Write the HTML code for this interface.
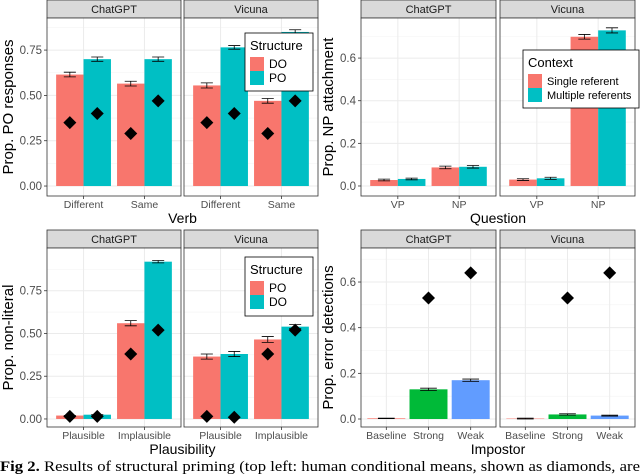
<!DOCTYPE html>
<html><head><meta charset="utf-8"><style>
html,body{margin:0;padding:0;background:#fff;}
svg{display:block;font-family:"Liberation Sans",sans-serif;}
</style></head><body>
<svg id="fig" width="640" height="474" viewBox="0 0 640 474" xmlns="http://www.w3.org/2000/svg">
<text x="0" y="471" font-family="Liberation Serif,serif" font-size="14.5" fill="#000" textLength="640" lengthAdjust="spacingAndGlyphs"><tspan font-weight="bold">Fig 2.</tspan> Results of structural priming (top left: human conditional means, shown as diamonds, are</text>
</svg>
<script>
// ---- Chart 1: structural priming ----
const c1Facets = ["ChatGPT","Vicuna"];
const c1Cats = ["Different","Same"];
const c1Groups = ["DO","PO"];
const c1Vals = [[[0.615,0.70],[0.565,0.70]],[[0.555,0.765],[0.47,0.85]]];
const c1Err = [[[0.013,0.012],[0.013,0.012]],[[0.014,0.01],[0.013,0.012]]];
const c1Human = [[[0.35,0.40],[0.29,0.47]],[[0.35,0.40],[0.29,0.47]]];
const c1Ticks = [0,0.25,0.5,0.75];
const c1TickLabels = ["0.00","0.25","0.50","0.75"];
// ---- Chart 2: NP attachment ----
const c2Cats = ["VP","NP"];
const c2Groups = ["Single referent","Multiple referents"];
const c2Vals = [[[0.028,0.033],[0.087,0.09]],[[0.03,0.036],[0.70,0.73]]];
const c2Err = [[[0.004,0.004],[0.006,0.006]],[[0.004,0.005],[0.011,0.012]]];
const c2Ticks = [0,0.2,0.4,0.6];
const c2TickLabels = ["0.0","0.2","0.4","0.6"];
// ---- Chart 3: non-literal ----
const c3Cats = ["Plausible","Implausible"];
const c3Groups = ["PO","DO"];
const c3Vals = [[[0.02,0.025],[0.56,0.92]],[[0.365,0.38],[0.465,0.54]]];
const c3Err = [[[0,0],[0.015,0.007]],[[0.015,0.015],[0.017,0.012]]];
const c3Human = [[[0.015,0.015],[0.38,0.52]],[[0.015,0.01],[0.38,0.52]]];
const c3Ticks = [0,0.25,0.5,0.75];
const c3TickLabels = ["0.00","0.25","0.50","0.75"];
// ---- Chart 4: error detection ----
const c4Cats = ["Baseline","Strong","Weak"];
const c4Vals = [[0.003,0.13,0.17],[0.002,0.02,0.015]];
const c4Err = [[0.001,0.005,0.005],[0.002,0.003,0.002]];
const c4Human = [[null,0.53,0.64],[null,0.53,0.64]];
const c4Ticks = [0,0.2,0.4,0.6];
const c4TickLabels = ["0.0","0.2","0.4","0.6"];

const NS="http://www.w3.org/2000/svg";
const svg=document.getElementById('fig');
const RED="#F8766D",TEAL="#00BFC4",GREEN="#00BA38",BLUE="#619CFF";
function mk(tag,attrs,parent){const e=document.createElementNS(NS,tag);for(const k in attrs)e.setAttribute(k,attrs[k]);(parent||svg).appendChild(e);return e;}
function txt(s,attrs,parent){const e=mk('text',attrs,parent);e.textContent=s;return e;}

function chart(cfg){
  const g=mk('g',{});
  
  
  const [d0,d1]=cfg.domain;
  const y=v=>cfg.bot-(v-d0)/(d1-d0)*(cfg.bot-cfg.top);
  const nC=cfg.cats.length, span=nC-1+1.2;
  c1Facets.forEach((fname,fi)=>{
    const px=cfg.x0[fi], pw=cfg.pw;
    const xc=i=>px+pw*(0.6+i)/span;
    const unit=pw/span;
    const st=mk('rect',{x:px,y:cfg.top-18,width:pw,height:18,fill:"#d9d9d9",stroke:"#333","stroke-width":0.8},g);
    
    
    txt(fname,{x:px+pw/2,y:cfg.top-5,"text-anchor":"middle","font-size":11,fill:"#1a1a1a"},g);
    mk('rect',{x:px,y:cfg.top,width:pw,height:cfg.bot-cfg.top,fill:"#fff"},g);
    for(let i=0;i<cfg.ticks.length;i++){
      const t=cfg.ticks[i];
      mk('line',{x1:px,x2:px+pw,y1:y(t),y2:y(t),stroke:"#ebebeb","stroke-width":1},g);
      if(i+1<cfg.ticks.length){const m=(t+cfg.ticks[i+1])/2;mk('line',{x1:px,x2:px+pw,y1:y(m),y2:y(m),stroke:"#f3f3f3","stroke-width":0.6},g);}
      else {const m=t+(t-cfg.ticks[i-1])/2; if(m<d1) mk('line',{x1:px,x2:px+pw,y1:y(m),y2:y(m),stroke:"#f3f3f3","stroke-width":0.6},g);}
    }
    cfg.cats.forEach((c,ci)=>{
      mk('line',{x1:xc(ci),x2:xc(ci),y1:cfg.top,y2:cfg.bot,stroke:"#ebebeb","stroke-width":1},g);
      mk('line',{x1:xc(ci),x2:xc(ci),y1:cfg.bot,y2:cfg.bot+3,stroke:"#333","stroke-width":0.8},g);
      const lt=txt(c,{x:xc(ci),y:cfg.bot+12,"text-anchor":"middle","font-size":10.5,fill:"#4d4d4d"},g);
      
      
    });
    cfg.cats.forEach((c,ci)=>{
      const ng=cfg.grouped?cfg.groups.length:1;
      const bw=0.9*unit/ng;
      for(let gi=0;gi<ng;gi++){
        const v=cfg.grouped?cfg.vals[fi][ci][gi]:cfg.vals[fi][ci];
        const e=cfg.grouped?cfg.err[fi][ci][gi]:cfg.err[fi][ci];
        const col=cfg.grouped?cfg.colors[gi]:cfg.colors[ci];
        const bx=xc(ci)-0.45*unit+gi*bw;
        const r=mk('rect',{x:bx,y:Math.min(y(v),y(0)),width:bw,height:Math.abs(y(0)-y(v)),fill:col},g);
        
        
        const cx=bx+bw/2, ew=bw*0.22;
        mk('path',{d:`M${cx-ew},${y(v-e)}H${cx+ew}M${cx},${y(v-e)}V${y(v+e)}M${cx-ew},${y(v+e)}H${cx+ew}`,stroke:"#000","stroke-width":0.8,fill:"none"},g);
        if(cfg.human){
          const h=cfg.grouped?cfg.human[fi][ci][gi]:cfg.human[fi][ci];
          if(h!=null){const hy=y(h),s=6.5;
            const dm=mk('path',{d:`M${cx},${hy-s}L${cx+s},${hy}L${cx},${hy+s}L${cx-s},${hy}Z`,fill:"#000"},g);
            
            }
        }
      }
    });
    mk('rect',{x:px,y:cfg.top,width:pw,height:cfg.bot-cfg.top,fill:"none",stroke:"#333","stroke-width":0.8},g);
  });
  cfg.ticks.forEach((t,i)=>{
    mk('line',{x1:cfg.x0[0]-3,x2:cfg.x0[0],y1:y(t),y2:y(t),stroke:"#333","stroke-width":0.8},g);
    const lt=txt(cfg.tickLabels[i],{x:cfg.x0[0]-5,y:y(t)+4,"text-anchor":"end","font-size":11.5,fill:"#4d4d4d"},g);
    
    
  });
  const mid=(cfg.top+cfg.bot)/2;
  const yt=txt(cfg.ytitle,{x:cfg.ytx,y:mid,"text-anchor":"middle","font-size":15,fill:"#000",transform:`rotate(-90 ${cfg.ytx} ${mid})`},g);
  
  
  const xmid=(cfg.x0[0]+cfg.x0[1]+cfg.pw)/2;
  const xt=txt(cfg.xtitle,{x:xmid,y:cfg.bot+27,"text-anchor":"middle","font-size":14,fill:"#000"},g);
  
  
  if(cfg.legend){
    const L=cfg.legend;
    const lg=mk('g',{},g);
    
    
    mk('rect',{x:L.x,y:L.y,width:L.w,height:L.h,fill:"#fff",stroke:"#000","stroke-width":0.8},lg);
    txt(L.title,{x:L.x+5,y:L.y+17,"font-size":13,fill:"#000"},lg);
    cfg.groups.forEach((gn,gi)=>{
      const ky=L.y+24+gi*14;
      mk('rect',{x:L.x+5,y:ky,width:14,height:14,fill:cfg.colors[gi]},lg);
      const et=txt(gn,{x:L.x+24,y:ky+11,"font-size":L.fs,fill:"#000"},lg);
      
      
    });
  }
}

chart({name:'structural-priming-chart',cats:c1Cats,groups:c1Groups,grouped:true,vals:c1Vals,err:c1Err,human:c1Human,colors:[RED,TEAL],
  ticks:c1Ticks,tickLabels:c1TickLabels,domain:[-0.055,0.927],top:18,bot:196,x0:[47,184],pw:134,
  ytitle:"Prop. PO responses",xtitle:"Verb",ytx:13,legend:{x:245,y:33,w:68,h:58,title:"Structure",fs:12}});
chart({name:'np-attachment-chart',cats:c2Cats,groups:c2Groups,grouped:true,vals:c2Vals,err:c2Err,colors:[RED,TEAL],
  ticks:c2Ticks,tickLabels:c2TickLabels,domain:[-0.047,0.788],top:18,bot:196,x0:[361,500],pw:135,
  ytitle:"Prop. NP attachment",xtitle:"Question",ytx:333,legend:{x:523,y:50,w:116,h:58,title:"Context",fs:11}});
chart({name:'non-literal-chart',cats:c3Cats,groups:c3Groups,grouped:true,vals:c3Vals,err:c3Err,human:c3Human,colors:[RED,TEAL],
  ticks:c3Ticks,tickLabels:c3TickLabels,domain:[-0.047,1.0],top:248,bot:427,x0:[47,184],pw:134,
  ytitle:"Prop. non-literal",xtitle:"Plausibility",ytx:13,legend:{x:245,y:257,w:68,h:59,title:"Structure",fs:12}});
chart({name:'error-detection-chart',cats:c4Cats,grouped:false,vals:c4Vals,err:c4Err,human:c4Human,colors:[RED,GREEN,BLUE],
  ticks:c4Ticks,tickLabels:c4TickLabels,domain:[-0.035,0.749],top:248,bot:427,x0:[361,500],pw:135,
  ytitle:"Prop. error detections",xtitle:"Impostor",ytx:333});
</script>
</body></html>
